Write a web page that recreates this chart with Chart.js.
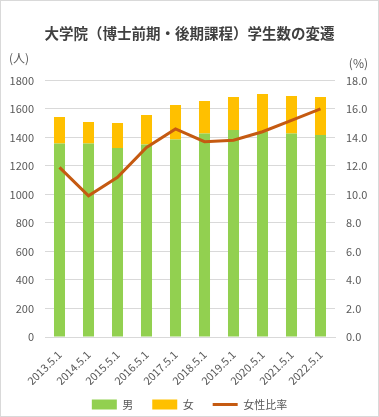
<!DOCTYPE html>
<html>
<head>
<meta charset="utf-8">
<script src="https://cdn.jsdelivr.net/npm/chart.js@4/dist/chart.umd.min.js"></script>
<style>
  html, body { margin: 0; padding: 0; background: #fff; }
  #wrap { width: 379px; height: 417px; }
</style>
</head>
<body>
<div id="wrap"><canvas id="plot"></canvas></div>
<script>
const years = ["2013.5.1", "2014.5.1", "2015.5.1", "2016.5.1", "2017.5.1",
               "2018.5.1", "2019.5.1", "2020.5.1", "2021.5.1", "2022.5.1"];
const male = [1358, 1358, 1326, 1351, 1386, 1428, 1452, 1440, 1428, 1417];
const female = [186, 151, 176, 207, 242, 228, 232, 265, 263, 267];
const femaleRatio = [11.9, 9.9, 11.2, 13.3, 14.6, 13.7, 13.8, 14.4, 15.2, 16.0];

const FONT = "'Noto Sans CJK JP', 'Noto Sans', sans-serif";
const GRAY = "#595959";

// unit labels over each axis + outer chart border
const extras = {
  id: "extras",
  afterDraw(chart) {
    const ctx = chart.ctx;
    const area = chart.chartArea;
    ctx.save();
    ctx.font = "12px " + FONT;
    ctx.fillStyle = GRAY;
    ctx.textBaseline = "middle";
    ctx.textAlign = "left";
    ctx.fillText("(人)", 9, area.top - 22);
    ctx.textAlign = "right";
    ctx.fillText("(%)", 368, area.top - 17);
    ctx.strokeStyle = "#d9d9d9";
    ctx.lineWidth = 1;
    ctx.strokeRect(0.5, 0.5, chart.width - 1, chart.height - 1);
    ctx.restore();
  }
};

new Chart(document.getElementById("plot"), {
  type: "bar",
  data: {
    labels: years,
    datasets: [
      {
        type: "line",
        label: "女性比率",
        data: femaleRatio,
        yAxisID: "y1",
        borderColor: "#C55A11",
        backgroundColor: "#C55A11",
        borderWidth: 3,
        pointRadius: 0,
        tension: 0,
        order: 0
      },
      {
        label: "男",
        data: male,
        backgroundColor: "#92D050",
        stack: "s",
        barPercentage: 0.38,
        categoryPercentage: 1,
        order: 1
      },
      {
        label: "女",
        data: female,
        backgroundColor: "#FFC000",
        stack: "s",
        barPercentage: 0.38,
        categoryPercentage: 1,
        order: 1
      }
    ]
  },
  options: {
    responsive: true,
    maintainAspectRatio: false,
    animation: false,
    layout: { padding: { left: 0, right: 0, top: 0, bottom: 0 } },
    plugins: {
      title: {
        display: true,
        text: "大学院（博士前期・後期課程）学生数の変遷",
        color: "#404040",
        font: { family: FONT, size: 14.5, weight: "bold" },
        padding: { top: 25, bottom: 38 }
      },
      legend: {
        position: "bottom",
        maxHeight: 32,
        labels: {
          color: GRAY,
          font: { family: FONT, size: 11 },
          usePointStyle: true,
          pointStyleWidth: 25,
          boxHeight: 10,
          padding: 14,
          // bars first, then the ratio line
          sort: (a, b) => (a.datasetIndex || 3) - (b.datasetIndex || 3),
          generateLabels(chart) {
            const items = Chart.defaults.plugins.legend.labels.generateLabels(chart);
            items.forEach(it => {
              if (it.datasetIndex === 0) {
                it.pointStyle = "line";
                it.lineWidth = 3;
              } else {
                it.pointStyle = "rect";
                it.lineWidth = 0;
                it.strokeStyle = it.fillStyle;
                it.text = it.text + "  ";
              }
            });
            return items;
          }
        }
      },
      tooltip: { enabled: false }
    },
    scales: {
      x: {
        stacked: true,
        afterFit(scale) { scale.height = 48; },
        grid: { display: false },
        border: { color: "#d9d9d9" },
        ticks: {
          color: GRAY,
          font: { family: FONT, size: 11 },
          minRotation: 45,
          maxRotation: 45
        }
      },
      y: {
        stacked: true,
        position: "left",
        min: 0,
        max: 1800,
        afterFit(scale) { scale.width = 45; },
        grid: { color: "#d9d9d9", drawTicks: false },
        border: { display: false },
        ticks: {
          stepSize: 200,
          padding: 11,
          color: GRAY,
          font: { family: FONT, size: 11 },
          callback: v => String(v)
        }
      },
      y1: {
        position: "right",
        min: 0,
        max: 18,
        afterFit(scale) { scale.width = 44; },
        grid: { display: false, drawTicks: false },
        border: { display: false },
        ticks: {
          stepSize: 2,
          padding: 11,
          color: GRAY,
          font: { family: FONT, size: 11 },
          callback: v => v.toFixed(1)
        }
      }
    }
  },
  plugins: [extras]
});
</script>
</body>
</html>
